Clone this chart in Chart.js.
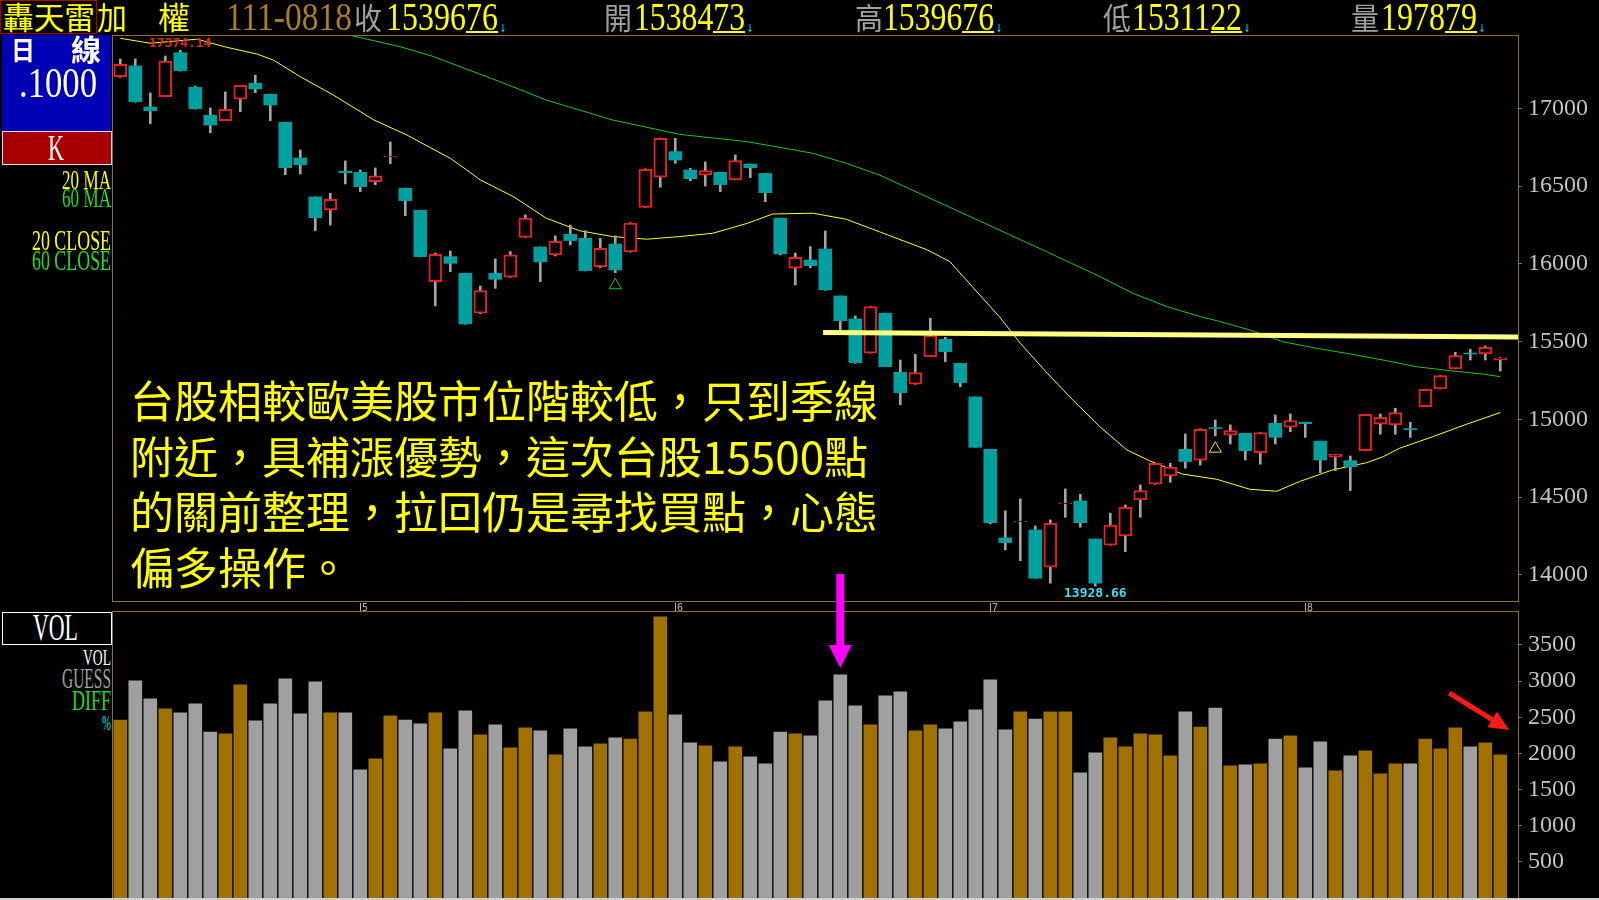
<!DOCTYPE html>
<html><head><meta charset="utf-8">
<script src="https://cdn.jsdelivr.net/npm/chart.js@4.4.1/dist/chart.umd.min.js"></script>
<style>
html,body{margin:0;padding:0;background:#000;width:1599px;height:900px;overflow:hidden;}
#root{position:relative;width:1599px;height:900px;background:#000;overflow:hidden;}
canvas{position:absolute;}
.t{position:absolute;white-space:nowrap;transform-origin:0 0;}
.box{position:absolute;box-sizing:border-box;}
</style></head><body><div id="root">
<canvas id="pc" width="1487" height="567" style="left:112px;top:35px"></canvas>
<canvas id="vc" width="1487" height="298" style="left:112px;top:602px"></canvas>
</div>
<script>
// ---------------- DATA ----------------
const opens = [17204,17273,17009,17076,17358,17136,16956,16921,17059,17162,
17091,16911,16681,16431,16347,16596,16589,16529,16688,16487,
16345,15886,16047,15940,15683,15940,15914,16171,16109,16058,
16191,16165,15983,16128,16077,16364,16557,16722,16604,16570,
16589,16540,16642,16582,16294,15972,16025,16096,15794,15646,
15426,15683,15303,15226,15404,15515,15361,15145,14808,14238,
14341,14289,14050,14458,14476,14231,14191,14251,14482,14583,
14637,14808,14738,14947,14898,14911,14786,14975,14950,14982,
14860,14757,14735,14799,14969,14965,14941,15082,15196,15325,
15427,15421,15384.73];
const highs = [17318,17318,17099,17337,17374.14,17144,17003,17106,17149,17213,
17091,16911,16733,16431,16454,16662,16604,16617,16784,16487,
16345,16070,16083,15940,15858,16032,16080,16315,16109,16180,
16250,16214,16165,16180,16265,16612,16810,16808,16615,16656,
16589,16701,16642,16582,16294,16070,16111,16212,15794,15665,
15725,15683,15382,15418,15651,15528,15361,15145,14808,14412,
14489,14315,14354,14553,14519,14231,14397,14450,14579,14718,
14718,14907,14940,14997,14965,14911,14915,15029,15035,14982,
14860,14776,14765,15033,15035,15072,14982,15194,15282,15432,
15451,15472,15396.76];
const lows = [17200,17040,16902,17076,17240,16995,16844,16921,16979,17101,
16921,16574,16578,16214,16250,16514,16465,16510,16645,16310,
16045,15730,15950,15612,15680,15843,15914,16171,15886,16051,
16122,15955,15976,15944,16075,16364,16493,16647,16535,16501,
16465,16540,16555,16400,16058,15865,15976,15830,15565,15360,
15426,15339,15095,15226,15404,15372,15211,14821,14328,14161,
14092,13979,13947,14371,14307,13928.66,14191,14150,14371,14583,
14596,14686,14707,14894,14842,14739,14712,14842,14921,14885,
14658,14671,14542,14799,14905,14905,14885,15082,15196,15325,
15382,15382,15311.22];
const closes = [17284,17043,16985,17305,17243,16998,16893,16994,17149,17125,
17022,16619,16638,16297,16416,16587,16497,16566,16693,16407,
16047,16062,16004,15614,15828,15901,16058,16294,16013,16146,
16150,15957,16101,15961,16263,16609,16807,16668,16548,16600,
16510,16664,16619,16458,16064,16043,15989,15833,15635,15365,
15725,15339,15172,15301,15539,15436,15237,14821,14336,14208,
14345,13979,14332,14463,14336,13947,14320,14435,14542,14718,
14693,14729,14937,14941,14928,14799,14915,14885,14992,14973,
14739,14776,14696,15033,15014,15044,14934,15194,15282,15410,
15421,15464,15396.76];
const volumes = [2462,3003,2753,2615,2560,2684,2296,2269,2947,2449,2684,3031,2546,2989,2560,2560,1770,1923,2519,2462,2407,2560,2061,2587,2255,2393,2075,2352,2310,1978,2338,2089,
2130,2213,2199,2573,3890,2532,2144,2103,1881,2089,1951,1854,2296,2269,2241,2726,3086,2656,2393,2795,2850,2310,2393,2338,2435,2601,3017,2324,2573,2476,2573,
2573,1730,2006,2213,2089,2269,2255,1964,2573,2365,2628,1826,1840,1854,2199,2241,1798,2158,1757,1964,2034,1715,1854,1854,2199,2061,2352,2089,2144,1978.79];

const ma20Idx = [0,2,5.1,7.1,9.1,10.2,12,14.2,16.9,19.1,22,23.1,24,26.2,28.4,30.6,32.8,35.1,37.3,39.5,41.8,43.5,46.2,48.4,50.6,53.8,55.3,56.8,58.6,60,61.8,63.5,65.3,67.1,68.6,70.8,73.1,75.3,77.1,78.6,80.8,83.1,84.2,85.3,87.5,89.8,92];
const ma20Val = [17451,17419,17445,17393,17350,17311,17204,17086,16926,16829,16679,16604,16540,16433,16294,16214,16176,16159,16176,16197,16261,16321,16326,16287,16207,16090,16015,15854,15661,15490,15297,15125,14954,14804,14735,14649,14615,14551,14538,14600,14675,14722,14761,14815,14889,14971,15044];
const ma60Idx = [15.5,18.65,20.9,23.1,25.3,28.4,32.8,37.3,41.8,46.2,48.4,50.6,61.5,65.3,67.5,69.8,72,73.1,75.3,77.5,79.7,82,84.2,86.4,88.6,90.8,92];
const ma60Val = [17466,17397,17333,17252,17172,17054,16926,16833,16786,16711,16647,16572,16090,15919,15811,15725,15661,15635,15575,15500,15458,15421,15382,15339,15314,15292,15275];

const trendIdx = [46.85, 93.18];
const trendVal = [15559, 15530];
const signalIdx = [33, 73];
const signalVal = [15863, 14812];

const priceTicks = [14000,14500,15000,15500,16000,16500,17000];
const volTicks = [500,1000,1500,2000,2500,3000,3500];
const monthLabels = ['5','6','7','8'];
const monthStartIdx = [16,37,58,79];
const highLabel = '17374.14', highLabelIdx = 4;
const lowLabel = '13928.66', lowLabelIdx = 65;
const arrowIdx = 48, arrowStartPrice = 14006, arrowHeadVol = 3500, arrowTipVol = 3181;
const redArrowIdx = [88.6, 92.6], redArrowVol = [2835, 2323];

const annotation = [
  '台股相較歐美股市位階較低，只到季線',
  '附近，具補漲優勢，這次台股15500點',
  '的關前整理，拉回仍是尋找買點，心態',
  '偏多操作。'
];

// ---------------- STYLE ----------------
const X_MIN = -0.553, X_MAX = 93.18;
const BORDER = '#8c6e3c';
const UP = '#e82020', DOWN = '#00a0a0', WICK = '#a4a4a4';
const idx = opens.map((_, i) => i);
const isUp = i => closes[i] >= opens[i];

function arrow(ctx, x1, y1, x2, y2, w, hl, hw, color) {
  const dx = x2 - x1, dy = y2 - y1, L = Math.hypot(dx, dy), ux = dx / L, uy = dy / L;
  const bx = x2 - ux * hl, by = y2 - uy * hl;
  ctx.strokeStyle = color; ctx.lineWidth = w; ctx.lineCap = 'butt';
  ctx.beginPath(); ctx.moveTo(x1, y1); ctx.lineTo(bx, by); ctx.stroke();
  ctx.fillStyle = color; ctx.beginPath(); ctx.moveTo(x2, y2);
  ctx.lineTo(bx - uy * hw, by + ux * hw); ctx.lineTo(bx + uy * hw, by - ux * hw);
  ctx.closePath(); ctx.fill();
}

const yTickFont = {family: 'Liberation Serif', size: 24};

const pricePlugin = {
  id: 'pricePlugin',
  afterDatasetsDraw(chart) {
    const {ctx, chartArea: a, scales: {x, y}} = chart;
    ctx.save();
    ctx.font = 'bold 13px "DejaVu Sans Mono"';
    ctx.textAlign = 'center'; ctx.textBaseline = 'middle';
    ctx.fillStyle = '#e02828';
    ctx.fillText(highLabel, x.getPixelForValue(highLabelIdx), y.getPixelForValue(highs[highLabelIdx]) - 7);
    ctx.fillStyle = '#40e0f0';
    ctx.fillText(lowLabel, x.getPixelForValue(lowLabelIdx), y.getPixelForValue(lows[lowLabelIdx]) + 8);
    ctx.strokeStyle = BORDER; ctx.lineWidth = 1;
    ctx.beginPath();
    ctx.moveTo(a.left + 0.5, a.bottom); ctx.lineTo(a.left + 0.5, a.top + 0.5); ctx.lineTo(a.right, a.top + 0.5);
    ctx.moveTo(a.left, a.bottom - 0.5); ctx.lineTo(a.right, a.bottom - 0.5);
    ctx.stroke();
    const mx = x.getPixelForValue(arrowIdx), my = y.getPixelForValue(arrowStartPrice);
    ctx.fillStyle = '#ff00ff';
    ctx.fillRect(mx - 4, my, 8, chart.height - my);
    ctx.restore();
  }
};

const volPlugin = {
  id: 'volPlugin',
  afterDatasetsDraw(chart) {
    const {ctx, chartArea: a, scales: {x, y}} = chart;
    ctx.save();
    ctx.strokeStyle = BORDER; ctx.lineWidth = 1;
    ctx.beginPath();
    ctx.moveTo(a.left + 0.5, a.bottom); ctx.lineTo(a.left + 0.5, a.top + 0.5); ctx.lineTo(a.right, a.top + 0.5);
    ctx.stroke();
    ctx.fillStyle = '#d0d0d0';
    ctx.fillRect(0, chart.height - 2, chart.width, 2);
    ctx.font = '10px "DejaVu Sans Mono"'; ctx.textAlign = 'left'; ctx.textBaseline = 'alphabetic';
    ctx.fillStyle = '#b4b4b4';
    monthStartIdx.forEach((m, k) => {
      const px = Math.round(x.getPixelForValue(m));
      ctx.fillRect(px, 1, 1, 8);
      ctx.fillText(monthLabels[k], px + 2, 8.5);
    });
    const mx = x.getPixelForValue(arrowIdx);
    const hy = y.getPixelForValue(arrowHeadVol), ty = y.getPixelForValue(arrowTipVol);
    ctx.fillStyle = '#ff00ff';
    ctx.fillRect(mx - 4, 0, 8, hy);
    ctx.beginPath(); ctx.moveTo(mx - 11.5, hy); ctx.lineTo(mx + 11.5, hy); ctx.lineTo(mx, ty); ctx.closePath(); ctx.fill();
    arrow(ctx, x.getPixelForValue(redArrowIdx[0]), y.getPixelForValue(redArrowVol[0]),
          x.getPixelForValue(redArrowIdx[1]), y.getPixelForValue(redArrowVol[1]), 5, 20, 9, '#ff1a1a');
    ctx.restore();
  }
};

function yAxis(min, max, ticks) {
  return {
    position: 'right', min, max, beginAtZero: false,
    afterBuildTicks: s => { s.ticks = ticks.map(v => ({value: v})); },
    afterFit: s => { s.width = 81; s.paddingTop = 0; s.paddingBottom = 0; },
    ticks: {color: '#c4c4c4', font: yTickFont, padding: 6, callback: v => String(v)},
    grid: {drawOnChartArea: false, drawTicks: true, tickLength: 4, color: BORDER},
    border: {display: true, color: BORDER, width: 1}
  };
}
const xAxis = {type: 'linear', min: X_MIN, max: X_MAX, offset: false, display: false};

new Chart(document.getElementById('pc'), {
  type: 'bar',
  data: {datasets: [
    {type: 'line', label: '60 MA', data: ma60Idx.map((v, k) => ({x: v, y: ma60Val[k]})),
     borderColor: '#22c422', borderWidth: 1, pointRadius: 0, tension: 0, order: 9},
    {type: 'line', label: '20 MA', data: ma20Idx.map((v, k) => ({x: v, y: ma20Val[k]})),
     borderColor: '#ffff20', borderWidth: 1, pointRadius: 0, tension: 0, order: 8},
    {type: 'bar', label: 'wick', data: idx.map(i => ({x: i, y: [lows[i], highs[i]]})),
     backgroundColor: WICK, borderWidth: 0, barThickness: 2, grouped: false, order: 7},
    {type: 'bar', label: 'K', data: idx.map(i => ({x: i, y: [opens[i], closes[i]]})),
     backgroundColor: idx.map(i => isUp(i) ? '#000000' : DOWN),
     borderColor: idx.map(i => isUp(i) ? UP : DOWN),
     borderWidth: idx.map(i => isUp(i) ? 2 : 0),
     borderSkipped: false, barThickness: 13, grouped: false, order: 6},
    {type: 'scatter', label: 'sig', data: signalIdx.map((v, k) => ({x: v, y: signalVal[k]})),
     pointStyle: 'triangle', pointRadius: 7, pointBorderWidth: 1,
     pointBorderColor: ['#20c020', '#e8e820'], pointBackgroundColor: 'rgba(0,0,0,0)', order: 3},
    {type: 'line', label: 'trend', data: trendIdx.map((v, k) => ({x: v, y: trendVal[k]})),
     borderColor: '#ffff80', borderWidth: 5, pointRadius: 0, order: 1}
  ]},
  options: {
    responsive: false, animation: false, devicePixelRatio: 1,
    layout: {padding: 0, autoPadding: false},
    plugins: {legend: {display: false}, tooltip: {enabled: false}},
    scales: {x: xAxis, y: yAxis(13826, 17472, priceTicks)}
  },
  plugins: [pricePlugin]
});

new Chart(document.getElementById('vc'), {
  type: 'bar',
  data: {datasets: [
    {label: 'VOL', data: idx.map(i => ({x: i, y: volumes[i]})),
     backgroundColor: idx.map(i => isUp(i) ? '#a07000' : '#a0a0a0'),
     borderWidth: 0, barThickness: 13, grouped: false}
  ]},
  options: {
    responsive: false, animation: false, devicePixelRatio: 1,
    layout: {padding: {top: 9, left: 0, right: 0, bottom: 0}, autoPadding: false},
    plugins: {legend: {display: false}, tooltip: {enabled: false}},
    scales: {x: {...xAxis}, y: yAxis(-30.5, 3970.6, volTicks)}
  },
  plugins: [volPlugin]
});

// ---------------- HTML TEXT ----------------
const root = document.getElementById('root');
const BF = {'Liberation Serif': 0.8375, 'Noto Sans CJK TC': 0.936, 'DejaVu Sans': 0.846};
function box(x, y, w, h, css) {
  const d = document.createElement('div'); d.className = 'box';
  Object.assign(d.style, {left: x + 'px', top: y + 'px', width: w + 'px', height: h + 'px'}, css);
  root.appendChild(d); return d;
}
function txt(s, o) {
  const d = document.createElement('div'); d.className = 't'; d.textContent = s;
  d.style.fontFamily = '"' + o.font + '"'; d.style.fontSize = o.size + 'px'; d.style.lineHeight = o.size + 'px';
  d.style.color = o.color; if (o.weight) d.style.fontWeight = o.weight;
  d.style.top = (o.base - BF[o.font] * o.size) + 'px';
  root.appendChild(d);
  let left = o.x;
  if (o.w) {
    const nat = d.getBoundingClientRect().width;
    d.style.transform = 'scaleX(' + (o.w / nat) + ')';
    if (o.right) left = o.x - o.w;
  }
  d.style.left = left + 'px';
  return d;
}
const SERIF = 'Liberation Serif', CJK = 'Noto Sans CJK TC';

// header
box(0, 0, 97, 34, {border: '1px solid #b00000'});
txt('轟天雷', {x: 3, base: 29, size: 31, color: '#ffff00', font: CJK, w: 92});
txt('加', {x: 97, base: 29, size: 31, color: '#ffff00', font: CJK, w: 30});
txt('權', {x: 158, base: 29, size: 31, color: '#ffff00', font: CJK, w: 32});
txt('111-0818', {x: 226, base: 30, size: 41, color: '#a87c28', font: SERIF, w: 126});
const quotes = [
  {lab: '收', lx: 354, val: '1539676', vx: 386, vw: 112},
  {lab: '開', lx: 604, val: '1538473', vx: 634, vw: 111},
  {lab: '高', lx: 855, val: '1539676', vx: 883, vw: 111},
  {lab: '低', lx: 1103, val: '1531122', vx: 1132, vw: 110},
  {lab: '量', lx: 1351, val: '197879', vx: 1381, vw: 96}
];
quotes.forEach(q => {
  txt(q.lab, {x: q.lx, base: 29, size: 30, color: '#a0a0a0', font: CJK, w: 28});
  txt(q.val, {x: q.vx, base: 30, size: 41, color: '#ffff00', font: SERIF, w: q.vw});
  const dw = q.vw / q.val.length;
  box(q.vx + q.vw - 2 * dw, 31, 2 * dw, 2, {background: '#ffff00'});
  txt('↓', {x: q.vx + q.vw + 2, base: 32, size: 11, color: '#00d0ff', font: 'DejaVu Sans', weight: 'bold', w: 6});
});

// left panel (price)
box(2, 35, 109, 96, {background: '#0000b4'});
txt('日', {x: 11, base: 60, size: 26, color: '#ffffff', font: CJK, weight: 'bold', w: 24});
txt('線', {x: 71, base: 61, size: 29, color: '#ffffff', font: CJK, weight: 'bold', w: 30});
txt('.1000', {x: 19, base: 97, size: 43, color: '#ffffff', font: SERIF, w: 78});
box(2, 131, 110, 34, {background: '#a80000', border: '1px solid #e0e0e0'});
txt('K', {x: 48, base: 160, size: 36, color: '#ffffff', font: SERIF, w: 16});
txt('20 MA', {x: 111, base: 190, size: 27, color: '#ffff00', font: SERIF, w: 49, right: true});
txt('60 MA', {x: 111, base: 208, size: 27, color: '#22dd22', font: SERIF, w: 49, right: true});
txt('20 CLOSE', {x: 111, base: 250, size: 29, color: '#ffff00', font: SERIF, w: 79, right: true});
txt('60 CLOSE', {x: 111, base: 270, size: 29, color: '#22dd22', font: SERIF, w: 79, right: true});

// left panel (volume)
box(2, 612, 110, 33, {border: '1px solid #ffffff', background: '#000'});
txt('VOL', {x: 33, base: 640, size: 38, color: '#ffffff', font: SERIF, w: 45});
txt('VOL', {x: 111, base: 665, size: 24, color: '#ffffff', font: SERIF, w: 28, right: true});
txt('GUESS', {x: 111, base: 688, size: 29, color: '#a0a0a0', font: SERIF, w: 49, right: true});
txt('DIFF', {x: 111, base: 710, size: 30, color: '#22dd22', font: SERIF, w: 39, right: true});
txt('%', {x: 111, base: 730, size: 22, color: '#00e0e0', font: SERIF, w: 9, right: true});
box(0, 898, 112, 2, {background: '#d0d0d0'});

// annotation text
const annBase = [417.7, 473.7, 528.7, 584.7];
annotation.forEach((s, k) => txt(s, {x: 130, base: annBase[k], size: 44, color: '#ffff00', font: CJK}));
</script>
</body></html>
